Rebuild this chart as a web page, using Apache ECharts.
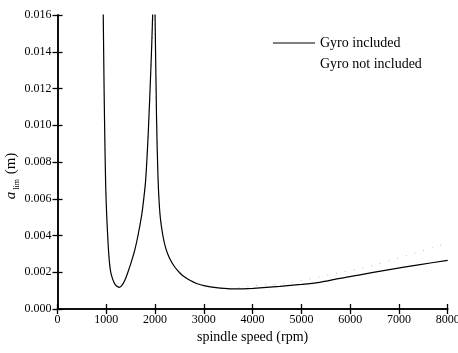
<!DOCTYPE html>
<html>
<head>
<meta charset="utf-8">
<script src="https://cdn.jsdelivr.net/npm/echarts@6/dist/echarts.min.js"></script>
<style>html,body{margin:0;padding:0;background:#fff}#c{width:458px;height:353px}</style>
</head>
<body>
<div id="c"></div>
<script>
// spindle speed (rpm) and limiting depth of cut a_lim (m)
var rpmGyro = [920, 938, 955, 975, 990, 1010, 1041, 1070, 1100, 1164, 1210, 1266, 1320, 1383, 1438, 1520, 1588, 1650, 1725, 1760, 1807, 1861, 1916, 1951, 1975,
  2000, 2030, 2060, 2100, 2160, 2220, 2300, 2400, 2510, 2600, 2715, 2850, 3022, 3250, 3535, 3800, 4012, 4560, 5000, 5379, 5789, 6200, 6746, 7400, 8000];
var aGyro = [0.020, 0.016, 0.012, 0.0085, 0.0065, 0.0050, 0.0034, 0.0024, 0.0019, 0.00141, 0.00125, 0.00118, 0.00128, 0.00158, 0.00196, 0.00262, 0.00325, 0.0040, 0.0051, 0.0058, 0.0070, 0.0096, 0.0132, 0.016, 0.020,
  0.016, 0.0105, 0.0072, 0.0052, 0.0040, 0.0033, 0.00275, 0.0023, 0.00196, 0.00175, 0.00156, 0.00139, 0.00126, 0.00116, 0.00110, 0.00110, 0.00112, 0.00123, 0.00134, 0.00145, 0.00167, 0.00186, 0.00212, 0.0024, 0.00265];
var rpmNoGyro = [920, 938, 955, 975, 990, 1010, 1041, 1070, 1100, 1164, 1210, 1266, 1320, 1383, 1438, 1520, 1588, 1650, 1725, 1760, 1807, 1861, 1916, 1962, 1980,
  1995, 2030, 2060, 2100, 2160, 2220, 2300, 2400, 2510, 2600, 2715, 2850, 3022, 3250, 3535, 3945, 4697, 5549, 6506, 7770, 8000];
var aNoGyro = [0.020, 0.016, 0.012, 0.0085, 0.0065, 0.0050, 0.0034, 0.0024, 0.0019, 0.00141, 0.00125, 0.00118, 0.00128, 0.00158, 0.00196, 0.00262, 0.00325, 0.0040, 0.0051, 0.0058, 0.0070, 0.0096, 0.0128, 0.016, 0.020,
  0.016, 0.0105, 0.0072, 0.0052, 0.0040, 0.0033, 0.00275, 0.0023, 0.00196, 0.00175, 0.00156, 0.00139, 0.00126, 0.00116, 0.00111, 0.00125, 0.00140, 0.00185, 0.0024, 0.0034, 0.0036];
var xTicks = [0, 1000, 2000, 3000, 4000, 5000, 6000, 7000, 8000];
var yTicks = [0.000, 0.002, 0.004, 0.006, 0.008, 0.010, 0.012, 0.014, 0.016];
var seriesNames = ['Gyro included', 'Gyro not included'];

function zip(xs, ys) { return xs.map(function (x, i) { return [x, ys[i]]; }); }

var serif = 'Liberation Serif';
var chart = echarts.init(document.getElementById('c'));
var axisCommon = {
  axisLine: { show: true, lineStyle: { color: '#000', width: 1.5 } },
  axisTick: { show: true, inside: true, length: 5, lineStyle: { color: '#000', width: 1.3 } },
  splitLine: { show: false }
};
chart.setOption({
  animation: false,
  backgroundColor: '#fff',
  grid: { left: 57.5, right: 10.3, top: 15, bottom: 44, containLabel: false, outerBoundsMode: 'none' },
  legend: {
    orient: 'vertical', left: 267, top: 31, itemWidth: 42, itemHeight: 10, itemGap: 7,
    textStyle: { fontFamily: serif, fontSize: 14, color: '#000' },
    data: [
      { name: seriesNames[0], itemStyle: { opacity: 0 }, lineStyle: { color: '#000', width: 1 } },
      { name: seriesNames[1], itemStyle: { opacity: 0 }, lineStyle: { opacity: 0 } }
    ]
  },
  xAxis: [
    Object.assign({}, axisCommon, {
      type: 'value', min: xTicks[0], max: xTicks[xTicks.length - 1], interval: 1000,
      name: 'spindle speed (rpm)', nameLocation: 'middle', nameGap: 21, nameMoveOverlap: false,
      nameTextStyle: { fontFamily: serif, fontSize: 14, color: '#000' },
      axisLabel: { fontFamily: serif, fontSize: 12, color: '#000', margin: 5, formatter: function (v) { return String(v); } }
    }),
    Object.assign({}, axisCommon, {
      type: 'value', position: 'top', min: xTicks[0], max: xTicks[xTicks.length - 1], interval: 1000,
      axisLabel: { show: false }
    })
  ],
  yAxis: [
    Object.assign({}, axisCommon, {
      type: 'value', min: yTicks[0], max: yTicks[yTicks.length - 1], interval: 0.002,
      name: '{a|a}{s|lim}{m| (m)}', nameLocation: 'middle', nameGap: 37, nameMoveOverlap: false,
      nameTextStyle: {
        fontFamily: serif, fontSize: 14, color: '#000', padding: [0, 28, 0, 0],
        rich: {
          a: { fontFamily: serif, fontSize: 15, fontStyle: 'italic', color: '#000', lineHeight: 18, verticalAlign: 'middle' },
          s: { fontFamily: serif, fontSize: 8, color: '#000', lineHeight: 8, verticalAlign: 'bottom', padding: [0, 1, 0, 2] },
          m: { fontFamily: serif, fontSize: 15, color: '#000', lineHeight: 18, verticalAlign: 'middle' }
        }
      },
      axisLabel: { fontFamily: serif, fontSize: 12, color: '#000', margin: 6, formatter: function (v) { return v.toFixed(3); } }
    }),
    Object.assign({}, axisCommon, {
      type: 'value', position: 'right', min: yTicks[0], max: yTicks[yTicks.length - 1], interval: 0.002,
      axisLabel: { show: false }
    })
  ],
  series: [
    {
      name: seriesNames[0], type: 'line', data: zip(rpmGyro, aGyro), showSymbol: false, symbol: 'none',
      smooth: 0.25, clip: true,
      lineStyle: { color: '#000', width: 1.2 }, itemStyle: { color: '#000' }, z: 3
    },
    {
      name: seriesNames[1], type: 'line', data: zip(rpmNoGyro, aNoGyro), showSymbol: false, symbol: 'none',
      smooth: 0.25, clip: true,
      lineStyle: { color: '#bbb', width: 1, type: [1, 8] }, itemStyle: { color: 'rgba(0,0,0,0)' }, z: 2
    }
  ]
});
</script>
</body>
</html>
